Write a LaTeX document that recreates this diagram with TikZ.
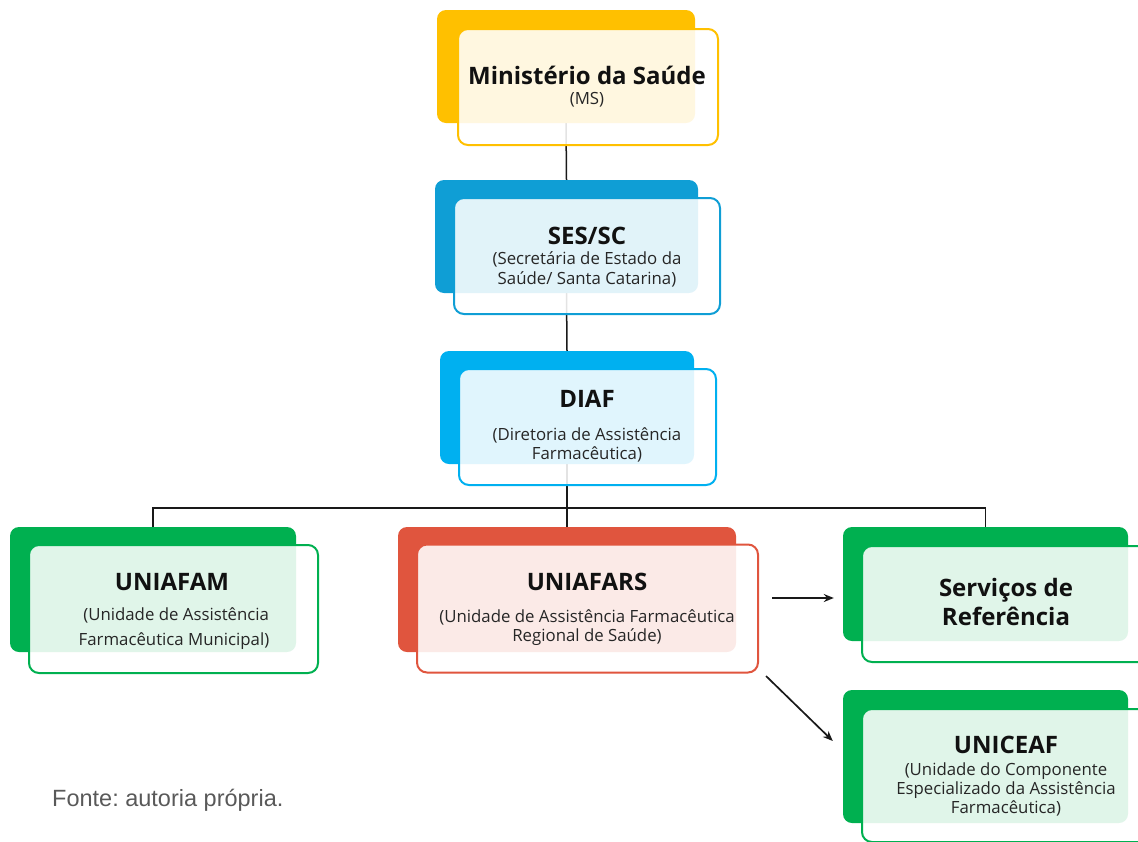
\documentclass[tikz,border=0pt]{standalone}
\usepackage{fontspec}
\setmainfont{Open Sans}
\newfontfamily\footfont{Liberation Sans}
\usetikzlibrary{arrows.meta,calc,backgrounds}
\frenchspacing

\definecolor{cYel}{HTML}{FFC000}
\definecolor{cSes}{HTML}{0F9ED5}
\definecolor{cDiaf}{HTML}{00B0F0}
\definecolor{cGreen}{HTML}{00B050}
\definecolor{cRed}{HTML}{E0553E}
\definecolor{cTxt}{HTML}{111111}
\definecolor{cSub}{HTML}{262626}
\definecolor{cFoot}{HTML}{595959}

\tikzset{
  backbox/.style={rectangle, rounded corners=9pt, fill=#1, draw=none, inner sep=0pt},
  frontbox/.style={rectangle, rounded corners=10pt, draw=#1, line width=2pt,
    fill=white, fill opacity=0.88, inner sep=0pt},
  ttl/.style={font=\bfseries\fontsize{24}{29}\selectfont, text=cTxt, inner sep=0pt, align=center},
  sub/.style={font=\fontsize{16.8}{#1}\selectfont, text=cSub, inner sep=0pt, align=center},
  sub/.default=19,
  link/.style={line width=1.5pt, draw=black!90},
  arrow/.style={line width=1.7pt, draw=black!90, -{Stealth[length=10pt,width=8pt]}},
}

\begin{document}
\begin{tikzpicture}[x=1pt,y=-1pt]
\useasboundingbox (0,0) rectangle (1138,841);
\clip (0,0) rectangle (1138,841);

% back boxes
\node[backbox=cYel,   minimum width=258pt, minimum height=113pt] (msB)   at (566,66.5) {};
\node[backbox=cSes,   minimum width=263pt, minimum height=113pt] (sesB)  at (566.5,236.5) {};
\node[backbox=cDiaf,  minimum width=254pt, minimum height=113pt] (diafB) at (567,407.5) {};
\node[backbox=cGreen, minimum width=286pt, minimum height=125pt] (famB)  at (153,589.5) {};
\node[backbox=cRed,   minimum width=338pt, minimum height=125pt] (farsB) at (567,589.5) {};
\node[backbox=cGreen, minimum width=285pt, minimum height=114pt] (servB) at (985.5,584) {};
\node[backbox=cGreen, minimum width=285pt, minimum height=133pt] (ceafB) at (985.5,756.5) {};

% front boxes
\node[frontbox=cYel,   minimum width=260pt, minimum height=116pt] (msF)   at (588,87) {};
\node[frontbox=cSes,   minimum width=266pt, minimum height=116pt] (sesF)  at (587,256) {};
\node[frontbox=cDiaf,  minimum width=257pt, minimum height=116pt] (diafF) at (587.5,427) {};
\node[frontbox=cGreen, minimum width=289pt, minimum height=128pt] (famF)  at (173.5,609) {};
\node[frontbox=cRed,   minimum width=341pt, minimum height=128pt] (farsF) at (587.5,608.5) {};
\node[frontbox=cGreen, minimum width=288pt, minimum height=116pt] (servF) at (1006,604) {};
\node[frontbox=cGreen, minimum width=288pt, minimum height=133pt] (ceafF) at (1006,775.5) {};

% texts
\node[ttl] (msT) at (587,75) {Ministério da Saúde};
\node[sub] (msS) at (587,100) {(MS)};
\node[ttl] (sesT) at (587,236) {SES/SC};
\node[sub=20] (sesS) at (587,269) {(Secretária de Estado da\\Saúde/ Santa Catarina)};
\node[ttl] (diafT) at (587,399) {DIAF};
\node[sub] (diafS) at (587,445) {(Diretoria de Assistência\\Farmacêutica)};
\node[ttl] (famT) at (172,582) {UNIAFAM};
\node[sub=25] (famS) at (174,629) {\ (Unidade de Assistência\\Farmacêutica Municipal)};
\node[ttl] (farsT) at (587,582) {UNIAFARS};
\node[sub] (farsS) at (587,627.5) {(Unidade de Assistência Farmacêutica\\Regional de Saúde)};
\node[font=\bfseries\fontsize{24}{29}\selectfont, text=cTxt, inner sep=0pt, align=center] (servT) at (1006,602) {Serviços de\\Referência};
\node[ttl] (ceafT) at (1006,745) {UNICEAF};
\node[sub] (ceafS) at (1006,789) {(Unidade do Componente\\Especializado da Assistência\\Farmacêutica)};

\node[font=\footfont\fontsize{23.5}{28}\selectfont, text=cFoot, anchor=west, inner sep=0pt] (foot) at (52,800) {Fonte: autoria própria.};

% connectors
\coordinate (j) at (567,508);
\coordinate (a1) at (772,598);
\coordinate (a2) at (766,676);
\begin{scope}[on background layer]
  \draw[link] (msB.south) -- (sesB.north);
  \draw[link] (sesB.south) -- (diafB.north);
  \draw[link] (diafB.south) -- (farsB.north);
  \draw[link] (famB.north) |- (j) -| (servB.north);
\end{scope}
\draw[arrow, shorten >=9pt] (a1) -- (a1 -| servB.west);
\draw[arrow] (a2) -- ($(ceafB.west)+(-10,-15.5)$);
\end{tikzpicture}
\end{document}
